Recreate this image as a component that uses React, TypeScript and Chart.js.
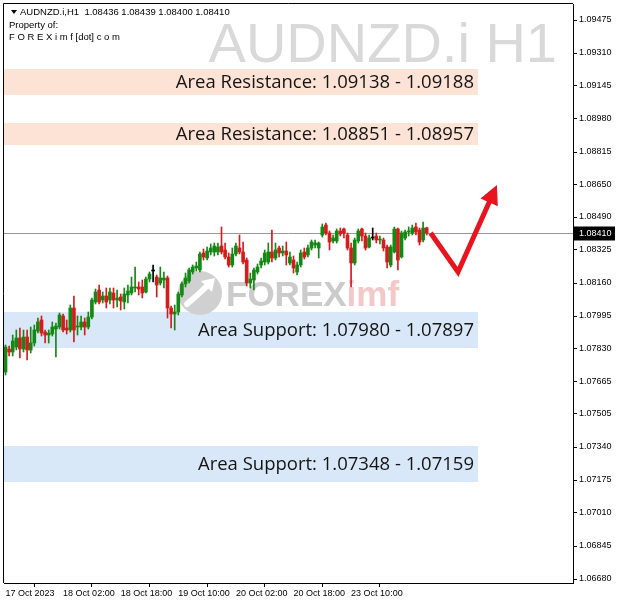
import React, { useEffect, useRef } from 'react';
import { Chart, registerables } from 'chart.js';

Chart.register(...registerables);

// ---- data (H1 candles, AUDNZD.i) ----
const opens = [
  1.07715, 1.07830, 1.07815, 1.07840, 1.07885, 1.07830, 1.07890, 1.07825, 1.07860, 1.07920,
  1.07975, 1.07915, 1.07900, 1.07905, 1.07930, 1.07940, 1.07995, 1.07935, 1.07925, 1.08035,
  1.07940, 1.07940, 1.07965, 1.07940, 1.07990, 1.08065, 1.08125, 1.08075, 1.08095, 1.08075,
  1.08110, 1.08075, 1.08090, 1.08065, 1.08100, 1.08110, 1.08135, 1.08140, 1.08140, 1.08115,
  1.08180, 1.08220, 1.08190, 1.08160, 1.08175, 1.08185, 1.08035, 1.08005, 1.08015, 1.08100,
  1.08155, 1.08170, 1.08215, 1.08235, 1.08225, 1.08310, 1.08285, 1.08315, 1.08315, 1.08315,
  1.08345, 1.08325, 1.08290, 1.08250, 1.08305, 1.08335, 1.08315, 1.08275, 1.08160, 1.08175,
  1.08215, 1.08250, 1.08265, 1.08265, 1.08315, 1.08285, 1.08335, 1.08310, 1.08320, 1.08260,
  1.08275, 1.08215, 1.08250, 1.08315, 1.08300, 1.08335, 1.08350, 1.08335, 1.08400, 1.08450,
  1.08410, 1.08370, 1.08370, 1.08420, 1.08430, 1.08400, 1.08335, 1.08260, 1.08370, 1.08430,
  1.08395, 1.08340, 1.08385, 1.08395, 1.08375, 1.08375, 1.08340, 1.08250, 1.08315, 1.08430,
  1.08290, 1.08385, 1.08415, 1.08410, 1.08440, 1.08425, 1.08375, 1.08436,
];
const highs = [
  1.07850, 1.07845, 1.07900, 1.07925, 1.07935, 1.07925, 1.07925, 1.07940, 1.07950, 1.07985,
  1.07995, 1.07925, 1.07925, 1.07965, 1.07960, 1.08010, 1.08005, 1.07975, 1.08050, 1.08095,
  1.07995, 1.07995, 1.07985, 1.08015, 1.08085, 1.08130, 1.08150, 1.08115, 1.08135, 1.08135,
  1.08135, 1.08125, 1.08105, 1.08135, 1.08150, 1.08190, 1.08240, 1.08165, 1.08175, 1.08190,
  1.08215, 1.08250, 1.08200, 1.08240, 1.08215, 1.08195, 1.08045, 1.08050, 1.08115, 1.08165,
  1.08210, 1.08235, 1.08250, 1.08265, 1.08315, 1.08330, 1.08340, 1.08355, 1.08360, 1.08360,
  1.08440, 1.08360, 1.08310, 1.08335, 1.08360, 1.08400, 1.08365, 1.08285, 1.08210, 1.08235,
  1.08255, 1.08285, 1.08325, 1.08360, 1.08425, 1.08360, 1.08345, 1.08345, 1.08365, 1.08315,
  1.08295, 1.08265, 1.08325, 1.08335, 1.08350, 1.08375, 1.08375, 1.08365, 1.08455, 1.08460,
  1.08420, 1.08400, 1.08430, 1.08435, 1.08435, 1.08410, 1.08360, 1.08385, 1.08430, 1.08435,
  1.08410, 1.08400, 1.08435, 1.08410, 1.08395, 1.08385, 1.08350, 1.08350, 1.08440, 1.08435,
  1.08420, 1.08425, 1.08440, 1.08450, 1.08460, 1.08435, 1.08465, 1.08439,
];
const lows = [
  1.07700, 1.07795, 1.07795, 1.07825, 1.07785, 1.07815, 1.07775, 1.07810, 1.07845, 1.07910,
  1.07895, 1.07860, 1.07860, 1.07895, 1.07790, 1.07930, 1.07915, 1.07905, 1.07915, 1.07865,
  1.07900, 1.07925, 1.07900, 1.07930, 1.07980, 1.08055, 1.08055, 1.08060, 1.08035, 1.08055,
  1.08035, 1.08040, 1.08025, 1.08030, 1.08060, 1.08100, 1.08115, 1.08100, 1.08085, 1.08110,
  1.08165, 1.08165, 1.08090, 1.08150, 1.08135, 1.07985, 1.07935, 1.07925, 1.08000, 1.08090,
  1.08140, 1.08160, 1.08205, 1.08220, 1.08215, 1.08275, 1.08275, 1.08300, 1.08295, 1.08300,
  1.08305, 1.08280, 1.08240, 1.08240, 1.08295, 1.08305, 1.08255, 1.08145, 1.08135, 1.08125,
  1.08205, 1.08235, 1.08250, 1.08255, 1.08265, 1.08275, 1.08290, 1.08295, 1.08250, 1.08250,
  1.08210, 1.08200, 1.08240, 1.08280, 1.08290, 1.08325, 1.08335, 1.08285, 1.08390, 1.08400,
  1.08325, 1.08360, 1.08360, 1.08395, 1.08385, 1.08325, 1.08140, 1.08250, 1.08360, 1.08370,
  1.08325, 1.08335, 1.08375, 1.08360, 1.08355, 1.08320, 1.08235, 1.08240, 1.08310, 1.08225,
  1.08285, 1.08375, 1.08395, 1.08400, 1.08400, 1.08350, 1.08365, 1.08400,
];
const closes = [
  1.07840, 1.07815, 1.07870, 1.07885, 1.07830, 1.07890, 1.07825, 1.07860, 1.07925, 1.07965,
  1.07910, 1.07900, 1.07910, 1.07940, 1.07945, 1.08000, 1.07925, 1.07925, 1.08035, 1.07925,
  1.07945, 1.07965, 1.07940, 1.07990, 1.08075, 1.08115, 1.08065, 1.08095, 1.08065, 1.08115,
  1.08075, 1.08085, 1.08070, 1.08105, 1.08120, 1.08140, 1.08140, 1.08130, 1.08110, 1.08180,
  1.08205, 1.08220, 1.08150, 1.08185, 1.08185, 1.08035, 1.08005, 1.08015, 1.08105, 1.08155,
  1.08185, 1.08225, 1.08240, 1.08245, 1.08305, 1.08290, 1.08320, 1.08335, 1.08345, 1.08340,
  1.08315, 1.08290, 1.08250, 1.08305, 1.08345, 1.08315, 1.08265, 1.08160, 1.08180, 1.08225,
  1.08240, 1.08270, 1.08310, 1.08315, 1.08285, 1.08325, 1.08310, 1.08320, 1.08300, 1.08290,
  1.08235, 1.08250, 1.08310, 1.08290, 1.08335, 1.08365, 1.08360, 1.08360, 1.08440, 1.08410,
  1.08365, 1.08385, 1.08420, 1.08405, 1.08410, 1.08335, 1.08260, 1.08375, 1.08420, 1.08395,
  1.08335, 1.08385, 1.08385, 1.08375, 1.08380, 1.08335, 1.08265, 1.08340, 1.08430, 1.08275,
  1.08410, 1.08415, 1.08420, 1.08435, 1.08415, 1.08365, 1.08435, 1.08410,
];

const symbolTitle = 'AUDNZD.i H1';
const headerLine = 'AUDNZD.i,H1  1.08436 1.08439 1.08400 1.08410';
const headerLine2 = 'Property of:';
const headerLine3 = 'F O R E X i m f [dot] c o m';

const timeLabels = ['17 Oct 2023', '18 Oct 02:00', '18 Oct 18:00', '19 Oct 10:00', '20 Oct 02:00', '20 Oct 18:00', '23 Oct 10:00'];
const timeLabelBars = [0, 16, 32, 48, 64, 80, 96];

const priceTicks = [
  1.09475, 1.0931, 1.09145, 1.0898, 1.08815, 1.0865, 1.0849, 1.08325, 1.0816,
  1.07995, 1.0783, 1.07665, 1.07505, 1.0734, 1.07175, 1.0701, 1.06845, 1.0668,
];

const zoneNames = [
  'Area Resistance: 1.09138 - 1.09188',
  'Area Resistance: 1.08851 - 1.08957',
  'Area Support: 1.07980 - 1.07897',
  'Area Support: 1.07348 - 1.07159',
];
const zoneTops = [1.0923, 1.0896, 1.08015, 1.07345];
const zoneBottoms = [1.091, 1.0885, 1.07835, 1.07165];
const zoneKinds = ['res', 'res', 'sup', 'sup'];
const zoneEndBar = 131.25;

const arrowBars = [118.1, 125.7, 136.5];
const arrowPrices = [1.0841, 1.08215, 1.0865];

const GREEN = '#148814';
const RED = '#d61b1b';
const BLACK = '#000000';

const FONT = '"Liberation Sans", Arial, sans-serif';

const overlayPlugin = {
  id: 'mt4overlay',
  beforeDatasetsDraw(chart: any) {
    const { ctx, chartArea: a, scales } = chart;
    const x = scales.x;
    const y = scales.y;
    ctx.save();
    ctx.beginPath();
    ctx.rect(a.left, a.top, a.right - a.left, a.bottom - a.top);
    ctx.clip();

    // symbol watermark
    ctx.fillStyle = '#d9d9d9';
    ctx.font = '56px ' + FONT;
    ctx.textAlign = 'right';
    ctx.textBaseline = 'alphabetic';
    ctx.fillText(symbolTitle, a.right - 16, a.top + 58);

    // zones
    const xr = x.getPixelForValue(zoneEndBar);
    zoneTops.forEach((t, k) => {
      const y1 = y.getPixelForValue(t);
      const y2 = y.getPixelForValue(zoneBottoms[k]);
      ctx.fillStyle = zoneKinds[k] === 'res' ? '#fce3d6' : '#d9e8f8';
      ctx.fillRect(a.left, y1, xr - a.left, y2 - y1);
    });

    // logo watermark
    const cx = a.left + 196;
    const cy = a.top + 289;
    ctx.fillStyle = '#d0d0d0';
    ctx.beginPath();
    ctx.arc(cx, cy, 22, 0, Math.PI * 2);
    ctx.fill();
    ctx.strokeStyle = '#ffffff';
    ctx.lineWidth = 6;
    ctx.lineCap = 'round';
    ctx.beginPath();
    ctx.moveTo(cx - 13, cy + 11);
    ctx.quadraticCurveTo(cx - 2, cy + 2, cx + 8, cy - 8);
    ctx.stroke();
    ctx.fillStyle = '#ffffff';
    ctx.beginPath();
    ctx.moveTo(cx + 15, cy - 15);
    ctx.lineTo(cx + 1, cy - 12);
    ctx.lineTo(cx + 12, cy - 1);
    ctx.closePath();
    ctx.fill();
    ctx.font = 'bold 35px ' + FONT;
    ctx.textAlign = 'left';
    ctx.textBaseline = 'middle';
    ctx.fillStyle = '#cbcbcb';
    ctx.fillText('FOREX', a.left + 222, cy + 3);
    const w = ctx.measureText('FOREX').width;
    ctx.fillStyle = '#f2c8c8';
    ctx.fillText('imf', a.left + 222 + w, cy + 3);

    // current price line
    const py = Math.round(y.getPixelForValue(closes[closes.length - 1])) + 0.5;
    ctx.strokeStyle = '#999999';
    ctx.lineWidth = 1;
    ctx.beginPath();
    ctx.moveTo(a.left, py);
    ctx.lineTo(a.right, py);
    ctx.stroke();
    ctx.restore();
  },
  afterDatasetsDraw(chart: any) {
    const { ctx, chartArea: a, scales } = chart;
    const x = scales.x;
    const y = scales.y;
    ctx.save();

    // zone labels
    const xr = x.getPixelForValue(zoneEndBar);
    ctx.font = '18.5px "Open Sans", ' + FONT;
    ctx.fillStyle = '#141414';
    ctx.textAlign = 'right';
    ctx.textBaseline = 'middle';
    zoneNames.forEach((n, k) => {
      const y1 = y.getPixelForValue(zoneTops[k]);
      const y2 = y.getPixelForValue(zoneBottoms[k]);
      ctx.fillText(n, xr - 4, (y1 + y2) / 2 + 1);
    });

    // red arrow
    const pts = arrowBars.map((b, i) => [x.getPixelForValue(b), y.getPixelForValue(arrowPrices[i])]);
    const tip = pts[2];
    const prev = pts[1];
    const dx = tip[0] - prev[0];
    const dy = tip[1] - prev[1];
    const len = Math.sqrt(dx * dx + dy * dy);
    const ux = dx / len;
    const uy = dy / len;
    const headLen = 19;
    const headHalf = 9.5;
    const bx = tip[0] - ux * headLen;
    const by = tip[1] - uy * headLen;
    ctx.strokeStyle = '#e8141e';
    ctx.fillStyle = '#e8141e';
    ctx.lineWidth = 5;
    ctx.lineJoin = 'miter';
    ctx.lineCap = 'butt';
    ctx.beginPath();
    ctx.moveTo(pts[0][0], pts[0][1]);
    ctx.lineTo(prev[0], prev[1]);
    ctx.lineTo(bx + ux * 2, by + uy * 2);
    ctx.stroke();
    ctx.beginPath();
    ctx.moveTo(tip[0], tip[1]);
    ctx.lineTo(bx - uy * headHalf, by + ux * headHalf);
    ctx.lineTo(bx + uy * headHalf, by - ux * headHalf);
    ctx.closePath();
    ctx.fill();

    // header
    ctx.fillStyle = '#000';
    ctx.beginPath();
    ctx.moveTo(a.left + 7, a.top + 6);
    ctx.lineTo(a.left + 13, a.top + 6);
    ctx.lineTo(a.left + 10, a.top + 10);
    ctx.closePath();
    ctx.fill();
    ctx.font = '9.5px ' + FONT;
    ctx.textAlign = 'left';
    ctx.textBaseline = 'middle';
    ctx.fillText(headerLine, a.left + 16, a.top + 8);
    ctx.fillText(headerLine2, a.left + 5, a.top + 21);
    ctx.fillText(headerLine3, a.left + 5, a.top + 33);
    ctx.restore();
  },
  afterDraw(chart: any) {
    const { ctx, chartArea: a, scales } = chart;
    const y = scales.y;
    ctx.save();
    // frame (left and top)
    ctx.strokeStyle = '#000';
    ctx.lineWidth = 1;
    ctx.beginPath();
    ctx.moveTo(a.left - 0.5, a.bottom);
    ctx.lineTo(a.left - 0.5, a.top - 0.5);
    ctx.lineTo(a.right, a.top - 0.5);
    ctx.stroke();
    // current price label
    const last = closes[closes.length - 1];
    const py = Math.round(y.getPixelForValue(last)) + 0.5;
    ctx.fillStyle = '#000';
    ctx.fillRect(a.right + 1, py - 7, 41, 14);
    ctx.fillStyle = '#fff';
    ctx.font = '9px ' + FONT;
    ctx.textAlign = 'left';
    ctx.textBaseline = 'middle';
    ctx.fillText(last.toFixed(5), a.right + 6, py);
    ctx.restore();
  },
};

export default function App() {
  const ref = useRef<HTMLCanvasElement | null>(null);

  useEffect(() => {
    document.body.style.margin = '0';
    const canvas = ref.current;
    if (!canvas) return;
    const idx = opens.map((_, i) => i);
    const colors = idx.map((i) =>
      closes[i] > opens[i] ? GREEN : closes[i] < opens[i] ? RED : BLACK
    );
    const chart = new Chart(canvas, {
      type: 'bar',
      data: {
        datasets: [
          {
            label: 'wicks',
            data: idx.map((i) => ({ x: i, y: [lows[i], highs[i]] })) as any,
            backgroundColor: colors,
            borderWidth: 0,
            barThickness: 1,
            grouped: false,
            order: 2,
          } as any,
          {
            label: 'bodies',
            data: idx.map((i) => ({ x: i, y: [opens[i], closes[i]] })) as any,
            backgroundColor: colors,
            borderWidth: 0,
            barThickness: 3,
            minBarLength: 1,
            grouped: false,
            order: 1,
          } as any,
        ],
      },
      options: {
        responsive: false,
        animation: false,
        events: [],
        layout: { padding: { left: 4, top: 4, right: 0, bottom: 0 } },
        plugins: { legend: { display: false }, tooltip: { enabled: false } },
        scales: {
          x: {
            type: 'linear',
            offset: false,
            bounds: 'data',
            min: -0.42,
            max: 157.64,
            afterBuildTicks: (s: any) => {
              s.ticks = timeLabelBars.map((v) => ({ value: v }));
            },
            afterFit: (s: any) => {
              s.height = 23;
              s.paddingLeft = 0;
              s.paddingRight = 0;
            },
            grid: { drawOnChartArea: false, drawTicks: true, tickLength: 4, color: '#000' },
            border: { display: true, color: '#000' },
            ticks: {
              autoSkip: false,
              maxRotation: 0,
              minRotation: 0,
              align: 'start',
              padding: 1,
              color: '#000',
              font: { family: FONT, size: 9 },
              callback: (v: any) => {
                const k = timeLabelBars.indexOf(Number(v));
                return k >= 0 ? timeLabels[k] : '';
              },
            },
          },
          y: {
            type: 'linear',
            position: 'right',
            bounds: 'data',
            min: 1.0666,
            max: 1.09555,
            afterBuildTicks: (s: any) => {
              s.ticks = priceTicks.map((v) => ({ value: v }));
            },
            afterFit: (s: any) => {
              s.width = 47;
              s.paddingTop = 0;
              s.paddingBottom = 0;
            },
            grid: { drawOnChartArea: false, drawTicks: true, tickLength: 4, color: '#000' },
            border: { display: true, color: '#000' },
            ticks: {
              autoSkip: false,
              padding: 2,
              color: '#000',
              font: { family: FONT, size: 9 },
              callback: (v: any) => Number(v).toFixed(5),
            },
          },
        },
      } as any,
      plugins: [overlayPlugin],
    });
    return () => chart.destroy();
  }, []);

  return (
    <div style={{ width: 620, height: 606, background: '#fff' }}>
      <canvas ref={ref} width={620} height={606} style={{ display: 'block' }} />
    </div>
  );
}
